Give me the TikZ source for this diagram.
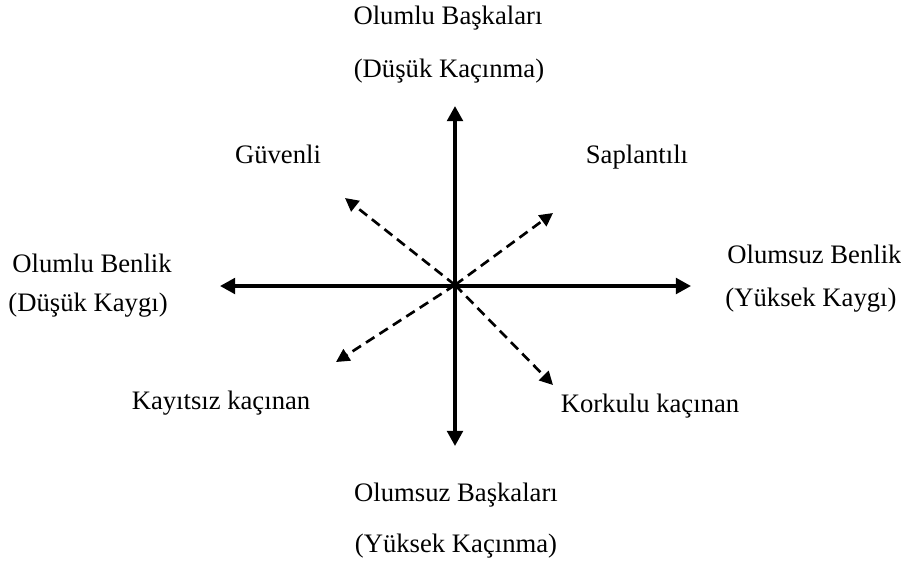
\documentclass[tikz,border=0pt]{standalone}
\usepackage{fontspec}
\setmainfont{Liberation Serif}
\usetikzlibrary{arrows.meta,positioning}

\begin{document}
\begin{tikzpicture}[x=0.45pt, y=-0.45pt, font=\fontsize{12}{14}\selectfont,
    ax/.style={line width=1.6pt,
               {Triangle[length=6.8pt,width=7pt]}-{Triangle[length=6.8pt,width=7pt]}},
    dg/.style={line width=1.2pt, dash pattern=on 4.5pt off 2.7pt,
               -{Triangle[length=6pt,width=6pt]}},
    lb/.style={anchor=base, inner sep=0pt}]
\useasboundingbox (0,0) rectangle (901,565);
% axes
\coordinate (o) at (455,285);
\coordinate (n) at (455,106);
\coordinate (s) at (455,446);
\coordinate (w) at (220,286);
\coordinate (e) at (691,286);
\draw[ax] (s) -- (n);
\draw[ax] (w) -- (e);
% diagonal styles
\foreach \nm/\px/\py in {gv/345/198, sp/553/213, ky/336/362, kk/553/385} {
    \coordinate (\nm) at (\px,\py);
    \draw[dg] (o) -- (\nm);
}
% axis labels
\node[lb] (ob) at (448,24) {Olumlu Başkaları};
\node[lb] (dk) at (449,77) {(Düşük Kaçınma)};
\node[lb] (osk) at (456,501) {Olumsuz Başkaları};
\node[lb] (ykc) at (456,552) {(Yüksek Kaçınma)};
\node[lb, anchor=base west] (olb) at (12,272) {Olumlu Benlik};
\node[lb, anchor=base west] (dky) at (8,311) {(Düşük Kaygı)};
\node[lb, anchor=base west] (osb) at (727,263) {Olumsuz Benlik};
\node[lb, anchor=base west] (yky) at (725,306) {(Yüksek Kaygı)};
% quadrant labels
\node[lb] (guv) at (278,163) {Güvenli};
\node[lb] (sap) at (637,163) {Saplantılı};
\node[lb] (kay) at (221,409) {Kayıtsız kaçınan};
\node[lb] (kor) at (650,412) {Korkulu kaçınan};
\end{tikzpicture}
\end{document}
